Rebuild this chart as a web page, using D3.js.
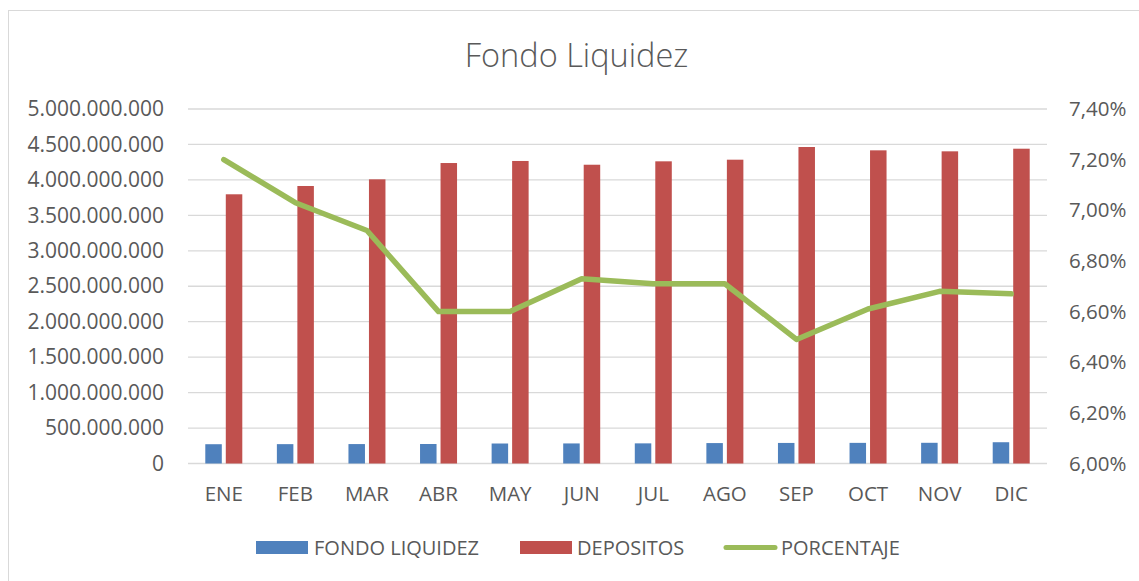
<!DOCTYPE html>
<html><head><meta charset="utf-8">
<script src="https://cdn.jsdelivr.net/npm/d3@7"></script>
<style>body{margin:0;background:#fff}svg{display:block}text{font-family:"Open Sans",sans-serif;fill:#595959}</style>
</head><body>
<svg id="c" width="1139" height="581"></svg>
<script>
const months = ["ENE","FEB","MAR","ABR","MAY","JUN","JUL","AGO","SEP","OCT","NOV","DIC"];
const fondo = [272e6,273e6,274e6,275e6,282e6,283e6,284e6,288e6,290e6,291e6,292e6,300e6];
const depositos = [3.797e9,3.914e9,4.008e9,4.238e9,4.267e9,4.214e9,4.262e9,4.285e9,4.464e9,4.417e9,4.403e9,4.44e9];
const porcentaje = [0.0720,0.0703,0.0692,0.0660,0.0660,0.0673,0.0671,0.0671,0.0649,0.0661,0.0668,0.0667];
const leftTicks = [0,5e8,1e9,1.5e9,2e9,2.5e9,3e9,3.5e9,4e9,4.5e9,5e9];
const rightTicks = [0.060,0.062,0.064,0.066,0.068,0.070,0.072,0.074];
const seriesNames = ["FONDO LIQUIDEZ","DEPOSITOS","PORCENTAJE"];
const colors = ["#4f81bd","#c0504d","#9bbb59"];

const svg = d3.select("#c");
const L=188, R=1047, T=109, B=463.5;
svg.append("rect").attr("x",8.5).attr("y",10.5).attr("width",1140).attr("height",580)
  .attr("fill","#fff").attr("stroke","#d9d9d9").attr("stroke-width",1);

svg.append("text").attr("x",576.5).attr("y",67).attr("text-anchor","middle")
  .style("font-size","32.5px").style("font-weight","300").text("Fondo Liquidez");

const x = d3.scaleBand().domain(months).range([L,R]);
const y = d3.scaleLinear().domain([0,5e9]).range([B,T]);
const y2 = d3.scaleLinear().domain([0.06,0.074]).range([B,T]);

const fmtL = d => d3.format(",")(d).replace(/,/g,".");
const fmtR = d => d3.format(".2f")(d*100).replace(".",",")+"%";

// gridlines
svg.append("g").selectAll("line").data(leftTicks).join("line")
  .attr("x1",L).attr("x2",R).attr("y1",d=>y(d)).attr("y2",d=>y(d))
  .attr("stroke","#d9d9d9").attr("stroke-width",1.3);

const gl = svg.append("g").attr("transform",`translate(${L},0)`)
  .call(d3.axisLeft(y).tickValues(leftTicks).tickFormat(fmtL).tickSize(0).tickPadding(24));
gl.select(".domain").remove();
gl.selectAll("text").style("font-size","21px").attr("fill","#595959");

const gr = svg.append("g").attr("transform",`translate(${R},0)`)
  .call(d3.axisRight(y2).tickValues(rightTicks).tickFormat(fmtR).tickSize(0).tickPadding(22));
gr.select(".domain").remove();
gr.selectAll("text").style("font-size","20.5px").attr("fill","#595959");

const gx = svg.append("g").attr("transform",`translate(0,${B})`)
  .call(d3.axisBottom(x).tickSize(0).tickPadding(23));
gx.select(".domain").remove();
gx.selectAll("text").style("font-size","20.5px").attr("fill","#595959");

const bw = 16.5, gap = 4;
svg.append("g").selectAll("rect").data(months).join("rect")
  .attr("x",(d)=>x(d)+x.bandwidth()/2-gap/2-bw)
  .attr("width",bw)
  .attr("y",(d,i)=>y(fondo[i])).attr("height",(d,i)=>B-y(fondo[i]))
  .attr("fill",colors[0]);
svg.append("g").selectAll("rect").data(months).join("rect")
  .attr("x",(d)=>x(d)+x.bandwidth()/2+gap/2)
  .attr("width",bw)
  .attr("y",(d,i)=>y(depositos[i])).attr("height",(d,i)=>B-y(depositos[i]))
  .attr("fill",colors[1]);

const line = d3.line().x((d,i)=>x(months[i])+x.bandwidth()/2).y(d=>y2(d));
svg.append("path").datum(porcentaje).attr("d",line).attr("fill","none")
  .attr("stroke",colors[2]).attr("stroke-width",5.5).attr("stroke-linejoin","round").attr("stroke-linecap","round");

// legend
const lg = svg.append("g");
const items = [{sx:256,tx:314,type:"rect"},{sx:520,tx:577,type:"rect"},{sx:723,tx:781,type:"line"}];
items.forEach((it,i)=>{
  if(it.type==="rect"){
    lg.append("rect").attr("x",it.sx).attr("y",541).attr("width",52).attr("height",13).attr("fill",colors[i]);
  } else {
    lg.append("line").attr("x1",it.sx+3).attr("x2",it.sx+52).attr("y1",547.5).attr("y2",547.5)
      .attr("stroke",colors[i]).attr("stroke-width",5).attr("stroke-linecap","round");
  }
  lg.append("text").attr("x",it.tx).attr("y",548).attr("dy","0.35em").style("font-size","20px").text(seriesNames[i]);
});
</script>
</body></html>
